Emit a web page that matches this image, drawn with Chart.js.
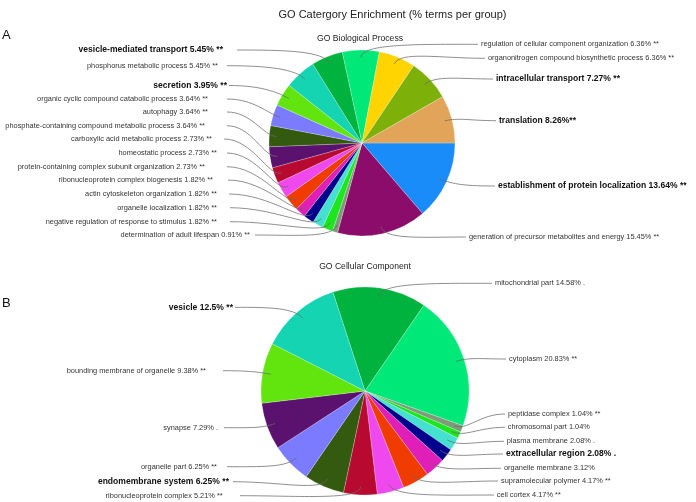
<!DOCTYPE html>
<html><head><meta charset="utf-8">
<script src="https://cdn.jsdelivr.net/npm/chart.js@4/dist/chart.umd.min.js"></script>
<style>
html,body{margin:0;padding:0;background:#fff;width:696px;height:502px;overflow:hidden}
canvas{position:absolute;left:0;top:0}
</style></head><body>
<canvas id="cA" width="696" height="502"></canvas>
<canvas id="cB" width="696" height="502"></canvas>
<script>
// ---------- DATA ----------
const bpCategories = [
  "establishment of protein localization",
  "generation of precursor metabolites and energy",
  "determination of adult lifespan",
  "negative regulation of response to stimulus",
  "organelle localization",
  "actin cytoskeleton organization",
  "ribonucleoprotein complex biogenesis",
  "protein-containing complex subunit organization",
  "homeostatic process",
  "carboxylic acid metabolic process",
  "phosphate-containing compound metabolic process",
  "autophagy",
  "organic cyclic compound catabolic process",
  "secretion",
  "phosphorus metabolic process",
  "vesicle-mediated transport",
  "regulation of cellular component organization",
  "organonitrogen compound biosynthetic process",
  "intracellular transport",
  "translation"
];
const bpValues = [13.64, 15.45, 0.91, 1.82, 1.82, 1.82, 1.82, 2.73, 2.73, 2.73, 3.64, 3.64, 3.64, 3.95, 5.45, 5.45, 6.36, 6.36, 7.27, 8.26];
const bpMarks = [" **"," **"," **"," **"," **"," **"," **"," **"," **"," **"," **"," **"," **"," **"," **"," **"," **"," **"," **","**"];

const ccCategories = [
  "mitochondrial part",
  "cytoplasm",
  "peptidase complex",
  "chromosomal part",
  "plasma membrane",
  "extracellular region",
  "organelle membrane",
  "supramolecular polymer",
  "cell cortex",
  "ribonucleoprotein complex",
  "endomembrane system",
  "organelle part",
  "synapse",
  "bounding membrane of organelle",
  "vesicle"
];
const ccValues = [14.58, 20.83, 1.04, 1.04, 2.08, 2.08, 3.12, 4.17, 4.17, 5.21, 6.25, 6.25, 7.29, 9.38, 12.5];
const ccMarks = [" ."," **"," **",""," ."," .",""," **"," **"," **"," **"," **"," ."," **"," **"];

// ---------- STYLE / LAYOUT ----------
const C = {
  blue:'#1a8cfa', purple:'#8c0c6c', grey:'#7f9a7a', green:'#1ee61e', turq:'#44e0d0',
  navy:'#00008c', magenta:'#e01eb8', orange:'#f03c00', pink:'#ee48ee', crimson:'#b80a30',
  dpurple:'#5a126e', dolive:'#345a10', peri:'#7b7bff', lime:'#62e40e', teal:'#14d4b2',
  dgreen:'#00b23e', spring:'#00e878', yellow:'#ffd400', olive:'#7eb00a', tan:'#e2a458'
};
const bpColors = [C.blue,C.purple,C.grey,C.green,C.turq,C.navy,C.magenta,C.orange,C.pink,C.crimson,
  C.dpurple,C.dolive,C.peri,C.lime,C.teal,C.dgreen,C.spring,C.yellow,C.olive,C.tan];
const ccColors = [C.dgreen,C.spring,C.grey,C.green,C.turq,C.navy,C.magenta,C.orange,C.pink,C.crimson,
  C.dolive,C.peri,C.dpurple,C.lime,C.teal];
const bpBold = [0,13,15,18,19];
const ccBold = [5,10,14];

// label layout: side, text x (edge), text y, line x
const bpLayout = [
  ['R',498,186,495],['R',469,237,466],['L',250,235,255],['L',217,221.7,230],['L',217,207.7,230],
  ['L',217,194,229],['L',213,180,228],['L',205,166.7,227],['L',217,153,227],['L',212,139,224],
  ['L',205,125.7,227],['L',208,112,227],['L',208,99,227],['L',227,85.5,229],['L',218,65.7,227],
  ['L',223,50,237],['R',481,44.3,478],['R',488,58.3,485],['R',496,79,493],['R',499,120.7,496]
];
const ccLayout = [
  ['R',495,283.3,492],['R',509,359,506],['R',508,414,505],['R',507.7,427.3,505],['R',506.7,441.3,504],
  ['R',506,454,503],['R',504,468.3,501],['R',501,481,498],['R',496.7,495,494],
  ['L',222.7,495.7,240],['L',229,481.7,233],['L',217,466.7,227],['L',218,427.7,224],
  ['L',206,370.7,223],['L',233,307.3,235]
];

const FONT = "'Liberation Sans', Arial, Helvetica, sans-serif";

const leaderPlugin = {
  id: 'leaders',
  afterDatasetsDraw(chart, args, opts) {
    const ctx = chart.ctx;
    const meta = chart.getDatasetMeta(0);
    ctx.save();
    meta.data.forEach((arc, i) => {
      const p = arc.getProps(['x','y','startAngle','endAngle','outerRadius'], true);
      const mid = (p.startAngle + p.endAngle) / 2;
      const ox = Math.cos(mid), oy = Math.sin(mid);
      const R = p.outerRadius * opts.anchorRatio;
      const ax = p.x + ox * R, ay = p.y + oy * R;
      const [side, tx, ty, lx] = opts.layout[i];
      const k = opts.hook;
      ctx.beginPath();
      ctx.strokeStyle = '#6a6a6a';
      ctx.lineWidth = 0.75;
      if (side === 'L') {
        ctx.moveTo(lx, ty);
        ctx.bezierCurveTo(lx + 0.5 * (ax - lx), ty, ax + ox * k, ay + oy * k, ax, ay);
      } else {
        ctx.moveTo(ax, ay);
        ctx.bezierCurveTo(ax + ox * k, ay + oy * k, lx - 0.5 * (lx - ax), ty, lx, ty);
      }
      ctx.stroke();
      const bold = opts.bold.includes(i);
      ctx.font = bold ? ('bold 8.55px ' + FONT) : ('7.4px ' + FONT);
      ctx.fillStyle = bold ? '#111' : '#333';
      ctx.textBaseline = 'middle';
      ctx.textAlign = side === 'L' ? 'right' : 'left';
      const lbl = opts.categories[i] + ' ' + opts.values[i] + '%' + opts.marks[i];
      ctx.fillText(lbl, tx, ty);
    });
    ctx.restore();
  }
};

const textPlugin = {
  id: 'statictext',
  afterDraw(chart, args, opts) {
    const ctx = chart.ctx;
    ctx.save();
    ctx.textBaseline = 'middle';
    (opts.items || []).forEach(t => {
      ctx.font = t.font;
      ctx.fillStyle = t.color;
      ctx.textAlign = t.align;
      ctx.fillText(t.text, t.x, t.y);
    });
    ctx.restore();
  }
};

function makePie(id, cats, vals, cols, rot, rad, pad, lay, marks, bold, texts) {
  return new Chart(document.getElementById(id), {
    type: 'pie',
    data: { labels: cats, datasets: [{ data: vals, backgroundColor: cols, borderWidth: 0.5, borderColor: 'rgba(255,255,255,0.45)' }] },
    options: {
      responsive: false, animation: false, devicePixelRatio: 1,
      rotation: rot, radius: rad,
      layout: { padding: pad },
      plugins: {
        legend: { display: false }, tooltip: { enabled: false },
        leaders: { layout: lay, anchorRatio: 0.92, hook: 14, categories: cats, values: vals, marks: marks, bold: bold },
        statictext: { items: texts }
      }
    },
    plugins: [leaderPlugin, textPlugin]
  });
}

makePie('cA', bpCategories, bpValues, bpColors, 90, 93,
  { left: 269, right: 241, top: 50, bottom: 266 }, bpLayout, bpMarks, bpBold, [
    { text: 'GO Catergory Enrichment (% terms per group)', x: 392.5, y: 15, font: '11px ' + FONT, color: '#222', align: 'center' },
    { text: 'A', x: 2, y: 35, font: '13px ' + FONT, color: '#111', align: 'left' },
    { text: 'GO Biological Process', x: 360, y: 38.3, font: '8.6px ' + FONT, color: '#222', align: 'center' }
  ]);
makePie('cB', ccCategories, ccValues, ccColors, -18, 104,
  { left: 261, right: 227, top: 287, bottom: 7 }, ccLayout, ccMarks, ccBold, [
    { text: 'B', x: 2, y: 303, font: '13px ' + FONT, color: '#111', align: 'left' },
    { text: 'GO Cellular Component', x: 365, y: 267, font: '8.6px ' + FONT, color: '#222', align: 'center' }
  ]);
</script>
</body></html>
